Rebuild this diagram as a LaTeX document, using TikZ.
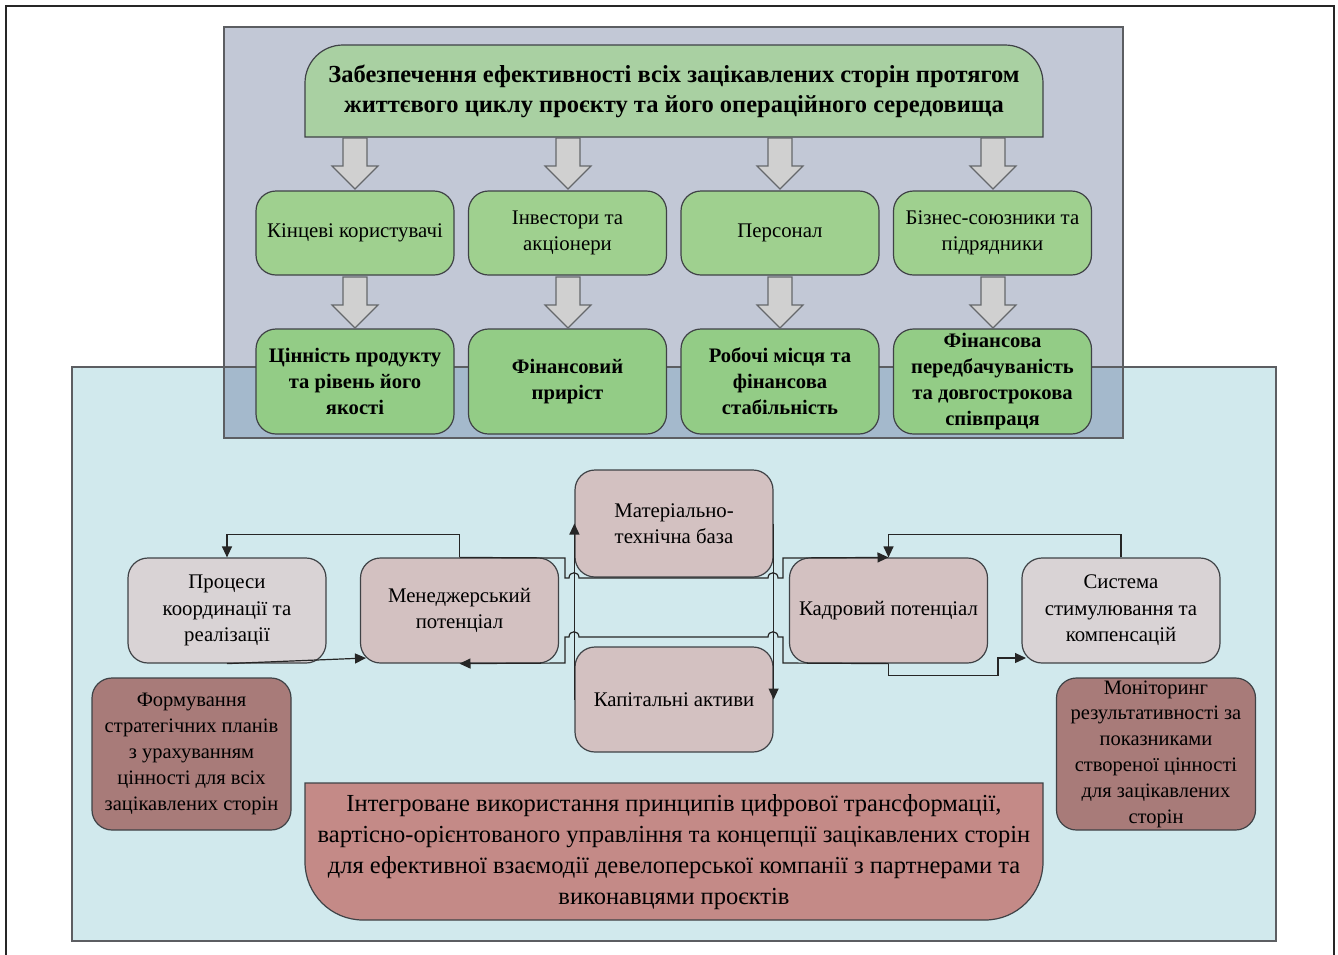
\documentclass[tikz,border=0pt]{standalone}
\usepackage{fontspec}
\setmainfont{Liberation Serif}
\usetikzlibrary{arrows.meta,calc}
\definecolor{graypanel}{HTML}{C2C8D6}
\definecolor{bluepanel}{HTML}{D1E9ED}
\definecolor{overlapc}{HTML}{A4B9CC}
\definecolor{titlegreen}{HTML}{A9D0A2}
\definecolor{rowonegreen}{HTML}{9FD08F}
\definecolor{rowtwogreen}{HTML}{93CC86}
\definecolor{lightbox}{HTML}{D9D3D5}
\definecolor{midbox}{HTML}{D3C1C1}
\definecolor{darkbox}{HTML}{A87B79}
\definecolor{bottombox}{HTML}{C48A87}
\definecolor{arrowgray}{HTML}{D0D0D0}
\definecolor{edgegray}{HTML}{3F4246}
\newcommand\blkarrow[3]{\draw[blockarrow] (#1-12,#2) -- (#1+12,#2) -- (#1+12,#3-23) -- (#1+23,#3-23) -- (#1,#3) -- (#1-23,#3-23) -- (#1-12,#3-23) -- cycle;}
\begin{document}
\begin{tikzpicture}[x=1pt,y=-1pt,
  panelborder/.style={draw=edgegray!85,line width=1.6pt},
  boxbase/.style={draw=edgegray,line width=1.2pt,rounded corners=20pt,align=center,inner sep=1pt},
  rowone/.style={boxbase,fill=rowonegreen,minimum width=198pt,minimum height=84pt,font=\fontsize{20.8}{26}\selectfont},
  rowtwo/.style={boxbase,fill=rowtwogreen,minimum width=198pt,minimum height=105pt,font=\fontsize{20.6}{26}\bfseries\selectfont},
  lightnode/.style={boxbase,fill=lightbox,minimum width=198pt,minimum height=105pt,font=\fontsize{20.8}{26.5}\selectfont},
  midnode/.style={boxbase,fill=midbox,minimum width=198pt,minimum height=105pt,font=\fontsize{20.8}{26.5}\selectfont},
  darknode/.style={boxbase,fill=darkbox,minimum width=199pt,minimum height=152pt,font=\fontsize{20.5}{25.8}\selectfont},
  blockarrow/.style={draw=edgegray!80,fill=arrowgray,line width=1.1pt,line join=miter},
  conn/.style={draw=black!85,line width=1.2pt},
  tip/.style={-{Triangle[length=11pt,width=10pt]}}
]
\useasboundingbox (0,0) rectangle (1338,954);
\clip (0,0) rectangle (1338,954);
\fill[white] (0,0) rectangle (1338,954);
% outer frame
\draw[line width=2.6pt,black!85] (6,980) -- (6,6) -- (1334,6) -- (1334,980);
% panels
\fill[bluepanel] (72,367) rectangle (1276,941);
\fill[graypanel] (224,27) rectangle (1123,438);
\fill[overlapc] (224,367) rectangle (1123,438);
\draw[panelborder] (72,367) rectangle (1276,941);
\draw[panelborder] (224,27) rectangle (1123,438);
% title shape
\draw[draw=edgegray,line width=1.2pt,fill=titlegreen]
  (305,137) -- (305,83) .. controls (305,62) and (322,45) .. (343,45)
  -- (1005,45) .. controls (1026,45) and (1043,62) .. (1043,83)
  -- (1043,137) -- cycle;
\node[minimum width=738pt,minimum height=92pt,align=center,inner sep=0pt,
  font=\fontsize{24.5}{30}\bfseries\selectfont] (title) at (674,91)
  {Забезпечення ефективності всіх зацікавлених сторін протягом\\життєвого циклу проєкту та його операційного середовища};
% row one
\node[rowone] (r1a) at (355,233) {Кінцеві користувачі};
\node[rowone] (r1b) at (567.5,233) {Інвестори та\\акціонери};
\node[rowone] (r1c) at (780,233) {Персонал};
\node[rowone] (r1d) at (992.5,233) {Бізнес-союзники та\\підрядники};
% row two
\node[rowtwo] (r2a) at (355,381.5) {Цінність продукту\\та рівень його\\якості};
\node[rowtwo] (r2b) at (567.5,381.5) {Фінансовий\\приріст};
\node[rowtwo] (r2c) at (780,381.5) {Робочі місця та\\фінансова\\стабільність};
\node[rowtwo] (r2d) at (992.5,381.5) {Фінансова\\передбачуваність\\та довгострокова\\співпраця};
% block arrows
\blkarrow{355}{138}{189}
\blkarrow{568}{138}{189}
\blkarrow{780}{138}{189}
\blkarrow{993}{138}{189}
\blkarrow{355}{277}{328}
\blkarrow{568}{277}{328}
\blkarrow{780}{277}{328}
\blkarrow{993}{277}{328}
% middle nodes
\node[lightnode] (proc) at (227,610.5) {Процеси\\координації та\\реалізації};
\node[midnode] (mgr) at (459.5,610.5) {Менеджерський\\потенціал};
\node[midnode,minimum height=107pt] (mat) at (674,523.5) {Матеріально-\\технічна база};
\node[midnode] (kap) at (674,699.5) {Капітальні активи};
\node[midnode] (kad) at (888.5,610.5) {Кадровий потенціал};
\node[lightnode] (sys) at (1121,610.5) {Система\\стимулювання та\\компенсацій};
\node[darknode] (form) at (191.5,754) {Формування\\стратегічних планів\\з урахуванням\\цінності для всіх\\зацікавлених сторін};
\node[darknode] (mon) at (1156,754) {Моніторинг\\результативності за\\показниками\\створеної цінності\\для зацікавлених\\сторін};
% bottom shape
\draw[draw=edgegray,line width=1.2pt,fill=bottombox]
  (305,783) -- (1043,783) -- (1043,862) .. controls (1043,894) and (1017,920) .. (985,920)
  -- (363,920) .. controls (331,920) and (305,894) .. (305,862) -- cycle;
\node[minimum width=738pt,minimum height=137pt,align=center,inner sep=0pt,
  font=\fontsize{24.5}{31}\selectfont] (integ) at (674,852)
  {Інтегроване використання принципів цифрової трансформації,\\вартісно-орієнтованого управління та концепції зацікавлених сторін\\для ефективної взаємодії девелоперської компанії з партнерами та\\виконавцями проєктів};
% connectors
\coordinate (mgrin) at (366,658);
\coordinate (sysin) at (1026,658);
\draw[conn,tip] (mgr.north) -- ++(0,-23) -| (proc.north);
\draw[conn,tip] (proc.south) -- (mgrin);
\draw[conn,tip] (sys.north) -- ++(0,-23) -| (kad.north);
\draw[conn,tip] (mgr.north) -- (565,558) -- (565,578) -- (569,578)
  .. controls (569,571) and (579,571) .. (579,578) -- (768,578)
  .. controls (768,571) and (778,571) .. (778,578) -- (783,578) -- (783,558) -- (kad.north);
\draw[conn,tip] (kad.south) -- (783,663) -- (783,637) -- (778,637)
  .. controls (778,630) and (768,630) .. (768,637) -- (579,637)
  .. controls (579,630) and (569,630) .. (569,637) -- (565,637) -- (565,663) -- (mgr.south);
\draw[conn,tip] (kad.south) -- ++(0,12) -| (998,658) -- (sysin);
\draw[conn,tip] (kap.west) -- (mat.west);
\draw[conn,tip] (mat.east) -- (kap.east);
\end{tikzpicture}
\end{document}
